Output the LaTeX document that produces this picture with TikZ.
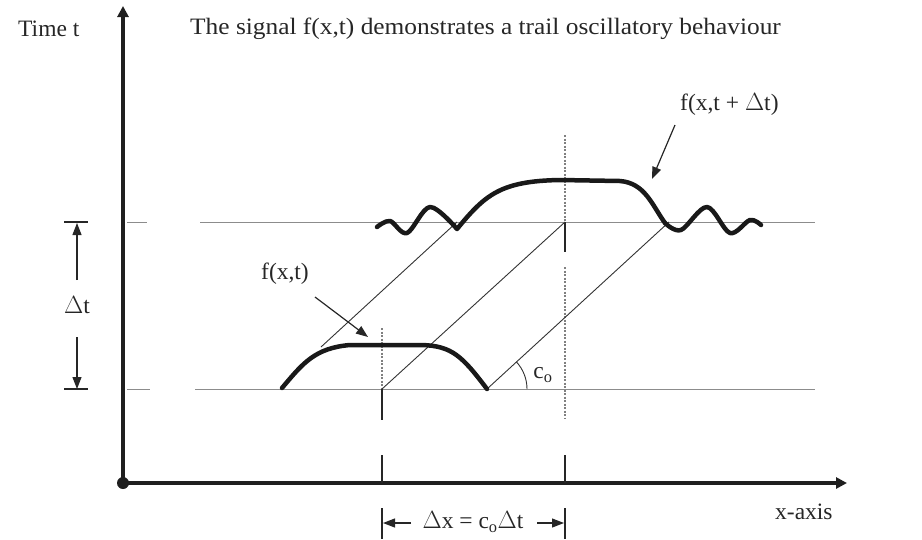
\documentclass[tikz,border=0pt]{standalone}
\usepackage{fontspec}
\setmainfont{Liberation Serif}
\usetikzlibrary{arrows.meta}
\begin{document}
\begin{tikzpicture}[x=1pt,y=-1pt,
  axis/.style={line width=4pt,draw=black!88,-{Triangle[length=11pt,width=11pt]}},
  thinline/.style={line width=1pt,draw=black!45},
  slant/.style={line width=0.9pt,draw=black!80},
  pulse/.style={line width=4.5pt,draw=black!90,line cap=round,line join=round},
  dotv/.style={line width=1.2pt,draw=black!50,dash pattern=on 2pt off 1.5pt},
  tick/.style={line width=1.2pt,draw=black!85},
  ptr/.style={line width=1.2pt,draw=black!85,-{Triangle[length=12pt,width=9pt]}},
  dim/.style={line width=1.2pt,draw=black!85,-{Triangle[length=12pt,width=9pt]}},
  lbl/.style={font=\fontsize{23.5}{27}\selectfont,text=black!85,inner sep=0pt}]
\useasboundingbox (0,0) rectangle (922,539);
% coordinates
\coordinate (O) at (123,483);
\coordinate (Ytop) at (123,6);
\coordinate (Xend) at (847,483);
% horizontal reference lines
\draw[thinline] (127,222) -- (147,222);
\draw[thinline] (200,222) -- (815,222);
\draw[thinline] (127,389) -- (150,389);
\draw[thinline] (195,389) -- (815,389);
% dotted verticals
\draw[dotv] (382,328) -- (382,389);
\draw[tick] (382,389) -- (382,420);
\draw[dotv] (565,135) -- (565,222);
\draw[tick] (565,222) -- (565,252);
\draw[dotv] (565,267) -- (565,418);
% slant lines
\draw[slant] (321,347) -- (457,222);
\draw[slant] (382,389) -- (565,222);
\draw[slant] (487,389) -- (669,222);
% angle arc
\draw[slant] (527,389) arc[start angle=0,end angle=-43,radius=40];
\node[lbl] (co) at (543,375) {c\textsubscript{o}};
% pulses
\draw[pulse] (282,388) .. controls (303,363) and (315,348) .. (350,345) -- (422,345) .. controls (452,346) and (462,356) .. (487,389);
\draw[pulse] plot[smooth,tension=0.55] coordinates {(377,227) (390,221) (407,233) (430,207) (457,229)}
  .. controls (485,195) and (500,181) .. (560,180) -- (620,181)
  .. controls (645,183) and (652,205) .. (665,223);
\draw[pulse] plot[smooth,tension=0.55] coordinates {(665,223) (681,230) (707,207) (730,233) (750,220) (761,225)};
% axes
\draw[axis] (O) -- (Ytop);
\draw[axis] (O) -- (Xend);
\fill[black!88] (O) circle (6pt);
% delta t dimension
\draw[tick] (64,222) -- (88,222);
\draw[tick] (64,389) -- (88,389);
\node[lbl] (dt) at (77,305) {$\Delta$t};
\coordinate (dttop) at (77,223);
\coordinate (dtbot) at (77,389);
\draw[dim] (77,280) -- (dttop);
\draw[dim] (77,337) -- (dtbot);
% bottom ticks and dimension
\draw[tick] (382,455) -- (382,483);
\draw[tick] (565,455) -- (565,483);
\draw[tick] (382,508) -- (382,539);
\draw[tick] (565,508) -- (565,539);
\node[lbl] (dx) at (473,522) {$\Delta$x = c\textsubscript{o}$\Delta$t};
\coordinate (dxl) at (383,523);
\coordinate (dxr) at (564,523);
\draw[dim] (411,523) -- (dxl);
\draw[dim] (537,523) -- (dxr);
% labels
\node[lbl,anchor=west] (time) at (18,29) {Time t};
\node[lbl,anchor=west] (title) at (190,29) {\scalebox{1.08}[1]{The signal f(x,t) demonstrates a trail oscillatory behaviour}};
\node[lbl] (fxt) at (285,274) {f(x,t)};
\coordinate (fxttip) at (368,337);
\draw[ptr] (315,297) -- (fxttip);
\node[lbl,anchor=west] (fxtdt) at (680,104) {f(x,t + $\Delta$t)};
\coordinate (fxtdttip) at (652,179);
\draw[ptr] (675,125) -- (fxtdttip);
\node[lbl,anchor=west] (xaxis) at (775,512) {x-axis};
\end{tikzpicture}
\end{document}
